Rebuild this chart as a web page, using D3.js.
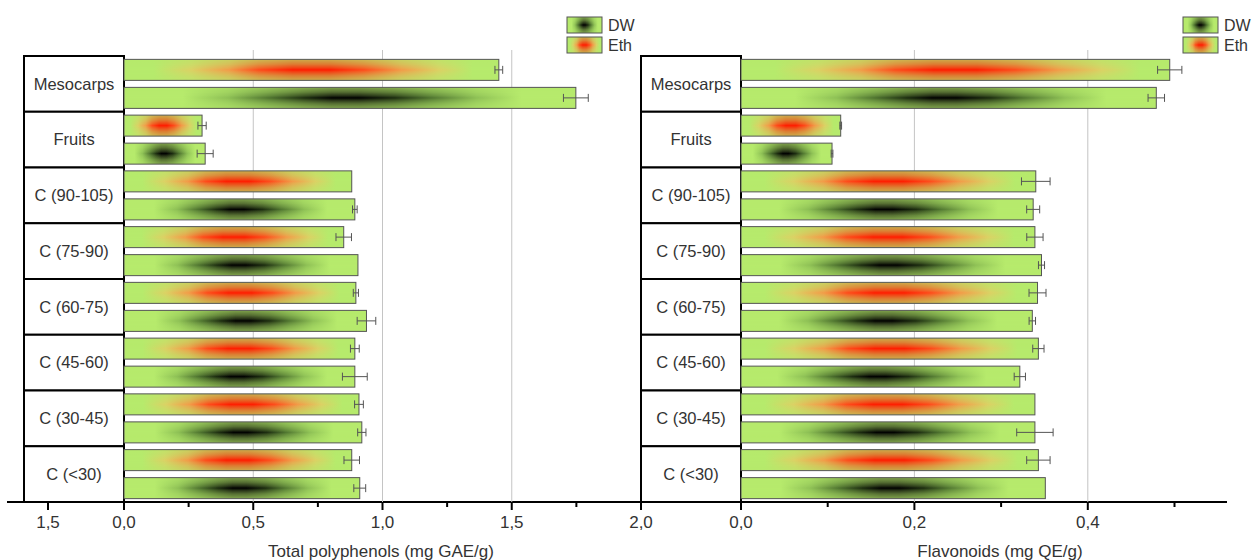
<!DOCTYPE html>
<meta charset="utf-8">
<head>
  <style>
    body {
      margin: 0;
      background: #fff;
      font-family: "Liberation Sans", Arial, sans-serif;
    }
    .grid line {
      stroke: #c4c4c4;
      stroke-width: 1px;
    }
    .frame {
      fill: none;
      stroke: #555;
      stroke-width: 1px;
    }
    .err {
      stroke: #555;
      stroke-width: 1px;
      fill: none;
    }
    .box {
      fill: #fff;
      stroke: #000;
      stroke-width: 2px;
    }
    text {
      fill: #333;
      font-size: 17px;
    }
  </style>
</head>
<body>
  <script src="https://d3js.org/d3.v7.min.js"></script>
  <script>
    const categories = ["Mesocarps", "Fruits", "C (90-105)", "C (75-90)", "C (60-75)", "C (45-60)", "C (30-45)", "C (<30)"];
    const series = ["Eth", "DW"];

    // total polyphenols, mg GAE/g
    const polyEth = [1.45, 0.302, 0.881, 0.85, 0.897, 0.893, 0.909, 0.881];
    const polyEthErr = [0.015, 0.016, 0, 0.03, 0.01, 0.017, 0.017, 0.03];
    const polyDW = [1.748, 0.314, 0.893, 0.905, 0.938, 0.893, 0.92, 0.912];
    const polyDWErr = [0.048, 0.031, 0.009, 0, 0.036, 0.048, 0.016, 0.023];

    // flavonoids, mg QE/g
    const flavEth = [0.4945, 0.115, 0.34, 0.339, 0.342, 0.343, 0.339, 0.343];
    const flavEthErr = [0.014, 0.001, 0.0165, 0.0094, 0.0098, 0.0065, 0, 0.0135];
    const flavDW = [0.479, 0.105, 0.337, 0.3466, 0.336, 0.3216, 0.339, 0.351];
    const flavDWErr = [0.0095, 0.001, 0.0075, 0.0035, 0.0037, 0.0065, 0.021, 0];

    const polyTicks = [0, 0.5, 1, 1.5, 2];
    const polyMinor = [0.25, 0.75, 1.25, 1.75];
    const flavTicks = [0, 0.2, 0.4];
    const flavMinor = [0.1, 0.3, 0.5];
    const fmt = v => d3.format(".1f")(v).replace(".", ",");

    const width = 1252, height = 560;
    const axisY = 502, topY = 56;

    const svg = d3.select("body").append("svg")
      .attr("width", width)
      .attr("height", height);

    const defs = svg.append("defs");
    const green = "#b6ea6c";

    // horizontal colour profile, then a vertical mask fades it toward the edges
    const profiles = {
      Eth: [[0, green], [0.08, green], [0.18, "#dcd064"], [0.28, "#f39a48"], [0.36, "#ff4a1a"],
            [0.45, "#ff1c00"], [0.55, "#ff1c00"], [0.64, "#ff4a1a"], [0.74, "#f39a48"],
            [0.84, "#dcd064"], [0.93, green], [1, green]],
      DW: [[0, green], [0.13, green], [0.23, "#8dbf55"], [0.32, "#4f7430"], [0.4, "#1c2c10"],
           [0.46, "#000"], [0.52, "#000"], [0.6, "#1c2c10"], [0.68, "#4f7430"],
           [0.78, "#8dbf55"], [0.88, green], [1, green]]
    };
    Object.entries(profiles).forEach(([k, stops]) => {
      const g = defs.append("linearGradient").attr("id", "h" + k)
        .attr("x1", 0).attr("x2", 1).attr("y1", 0).attr("y2", 0);
      stops.forEach(s => g.append("stop").attr("offset", s[0]).attr("stop-color", s[1]));
    });
    const vg = defs.append("linearGradient").attr("id", "vfade")
      .attr("x1", 0).attr("x2", 0).attr("y1", 0).attr("y2", 1);
    [[0, 0.3], [0.22, 0.52], [0.4, 0.8], [0.5, 1], [0.6, 0.8], [0.78, 0.52], [1, 0.3]]
      .forEach(s => vg.append("stop").attr("offset", s[0]).attr("stop-color", "#fff").attr("stop-opacity", s[1]));
    defs.append("mask").attr("id", "vmask")
      .attr("maskContentUnits", "objectBoundingBox")
      .append("rect").attr("width", 1).attr("height", 1).attr("fill", "url(#vfade)");

    function shadedBar(sel) {
      sel.append("rect").attr("class", "base").attr("fill", green);
      sel.append("rect").attr("class", "shade").attr("mask", "url(#vmask)")
        .attr("fill", d => `url(#h${d.s})`);
      sel.append("rect").attr("class", "frame");
      return sel;
    }

    const y = d3.scaleBand().domain(categories).range([topY, axisY]);
    const yIn = d3.scaleBand().domain(series).range([0, y.bandwidth()])
      .paddingInner(0.25).paddingOuter(0.12);

    // shared bottom axis line
    svg.append("line")
      .attr("x1", 7).attr("x2", 1227)
      .attr("y1", axisY).attr("y2", axisY)
      .attr("stroke", "#000").attr("stroke-width", 2);

    function panel(opts) {
      const x = opts.x;
      const g = svg.append("g");

      g.append("g").attr("class", "grid")
        .selectAll("line").data(opts.grid).join("line")
        .attr("x1", d => x(d)).attr("x2", d => x(d))
        .attr("y1", 50).attr("y2", axisY);

      // category boxes
      const boxes = g.selectAll("g.cat").data(categories).join("g").attr("class", "cat");
      boxes.append("rect").attr("class", "box")
        .attr("x", opts.boxX).attr("width", x(0) - opts.boxX)
        .attr("y", d => y(d)).attr("height", y.bandwidth());
      boxes.append("text")
        .attr("x", (opts.boxX + x(0)) / 2)
        .attr("y", d => y(d) + y.bandwidth() / 2)
        .attr("dy", "0.35em")
        .attr("text-anchor", "middle")
        .style("font-size", "16.5px")
        .text(d => d);

      const rows = [];
      categories.forEach((c, i) => {
        rows.push({ c, s: "Eth", v: opts.eth[i], e: opts.ethErr[i] });
        rows.push({ c, s: "DW", v: opts.dw[i], e: opts.dwErr[i] });
      });

      const bars = g.selectAll("g.bar").data(rows).join("g").attr("class", "bar")
        .call(shadedBar);
      bars.selectAll("rect")
        .attr("x", d => x(0))
        .attr("y", d => y(d.c) + yIn(d.s))
        .attr("width", d => x(d.v) - x(0))
        .attr("height", yIn.bandwidth());

      const errs = g.selectAll("g.errbar").data(rows.filter(d => d.e > 0)).join("g")
        .attr("class", "errbar")
        .attr("transform", d => `translate(0,${y(d.c) + yIn(d.s) + yIn.bandwidth() / 2})`);
      errs.append("line").attr("class", "err")
        .attr("x1", d => x(d.v - d.e)).attr("x2", d => x(d.v + d.e));
      errs.append("line").attr("class", "err")
        .attr("x1", d => x(d.v - d.e)).attr("x2", d => x(d.v - d.e))
        .attr("y1", -4).attr("y2", 4);
      errs.append("line").attr("class", "err")
        .attr("x1", d => x(d.v + d.e)).attr("x2", d => x(d.v + d.e))
        .attr("y1", -4).attr("y2", 4);

      // ticks
      g.selectAll("line.major").data(opts.ticks).join("line")
        .attr("class", "major")
        .attr("x1", d => x(d)).attr("x2", d => x(d))
        .attr("y1", axisY).attr("y2", axisY + 8)
        .attr("stroke", "#000").attr("stroke-width", 2);
      g.selectAll("line.minor").data(opts.minor).join("line")
        .attr("class", "minor")
        .attr("x1", d => x(d)).attr("x2", d => x(d))
        .attr("y1", axisY).attr("y2", axisY + 5)
        .attr("stroke", "#000").attr("stroke-width", 2);
      g.selectAll("text.tick").data(opts.ticks).join("text")
        .attr("class", "tick")
        .attr("x", d => x(d)).attr("y", 528)
        .attr("text-anchor", "middle")
        .text(fmt);

      // extra tick on the label column
      g.append("line")
        .attr("x1", opts.extra[0]).attr("x2", opts.extra[0])
        .attr("y1", axisY).attr("y2", axisY + 8)
        .attr("stroke", "#000").attr("stroke-width", 2);
      if (opts.extra[1]) {
        g.append("text")
          .attr("x", opts.extra[0]).attr("y", 528)
          .attr("text-anchor", "middle")
          .text(opts.extra[1]);
      }

      g.append("text")
        .attr("x", opts.titleX).attr("y", 557)
        .attr("text-anchor", "middle")
        .text(opts.title);

      // legend
      const lg = g.selectAll("g.leg").data(["DW", "Eth"]).join("g")
        .attr("class", "leg")
        .attr("transform", (d, i) => `translate(${opts.legX},${17 + i * 20})`);
      lg.datum(d => ({ s: d })).call(shadedBar);
      lg.selectAll("rect").attr("width", 35).attr("height", 16);
      lg.append("text").attr("x", 41).attr("y", 8).attr("dy", "0.35em")
        .style("font-size", "16px").text(d => d.s);
    }

    panel({
      x: d3.scaleLinear().domain([0, 2]).range([124, 641]),
      boxX: 24, grid: [0.5, 1, 1.5],
      eth: polyEth, ethErr: polyEthErr, dw: polyDW, dwErr: polyDWErr,
      ticks: polyTicks, minor: polyMinor, extra: [48, "1,5"],
      title: "Total polyphenols (mg GAE/g)", titleX: 381, legX: 567
    });

    panel({
      x: d3.scaleLinear().domain([0, 0.5]).range([741, 1174.5]),
      boxX: 641, grid: [0.2, 0.4],
      eth: flavEth, ethErr: flavEthErr, dw: flavDW, dwErr: flavDWErr,
      ticks: flavTicks, minor: flavMinor, extra: [641, null],
      title: "Flavonoids (mg QE/g)", titleX: 1000, legX: 1183
    });
  </script>
</body>
